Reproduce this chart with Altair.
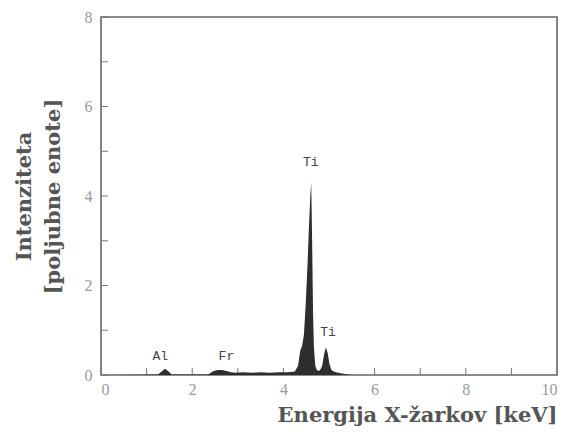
import altair as alt
import pandas as pd

# Spectrum (keV, arbitrary units)
energy = [0.0, 0.3, 1.25, 1.33, 1.40, 1.47, 1.55, 2.35, 2.45, 2.55, 2.65, 2.75,
          2.85, 2.95, 3.1, 3.3, 3.5, 3.7, 3.9, 4.1, 4.25, 4.32, 4.37, 4.41, 4.45,
          4.49, 4.53, 4.56, 4.59, 4.61, 4.63, 4.65, 4.67, 4.70, 4.74, 4.80, 4.85,
          4.89, 4.93, 4.97, 5.01, 5.05, 5.10, 5.20, 5.35, 5.5]
intensity = [0.0, 0.0, 0.01, 0.08, 0.14, 0.09, 0.01, 0.01, 0.08, 0.11, 0.11, 0.09,
             0.06, 0.05, 0.06, 0.05, 0.06, 0.05, 0.06, 0.06, 0.08, 0.2, 0.55, 0.65, 0.9,
             1.6, 2.5, 3.3, 4.0, 4.3, 3.0, 1.4, 0.6, 0.2, 0.1, 0.1, 0.2,
             0.45, 0.62, 0.5, 0.25, 0.12, 0.08, 0.05, 0.02, 0.0]

peak_labels = ["Al", "Fr", "Ti", "Ti"]
peak_x = [1.3, 2.75, 4.6, 4.98]
peak_y = [0.42, 0.42, 4.75, 0.96]

x_ticks = list(range(0, 11))
y_ticks = list(range(0, 9))
x_labels = [0, 2, 4, 6, 8, 10]
y_labels = [0, 2, 4, 6, 8]

W, H = 456, 358

spec = pd.DataFrame({"e": energy, "i": intensity})
labs = pd.DataFrame({"t": peak_labels, "x": peak_x, "y": peak_y})
xt = pd.DataFrame({"v": x_ticks})
yt = pd.DataFrame({"v": y_ticks})

xs = alt.Scale(domain=[0, 10], nice=False, zero=False)
ys = alt.Scale(domain=[0, 8], nice=False, zero=False)

serif = "DejaVu Serif"

xaxis = alt.Axis(values=x_labels, ticks=False, domain=False, grid=False,
                 labelFont="Liberation Serif", labelFontSize=16, labelColor="#999",
                 labelPadding=6,
                 title="Energija X-žarkov [keV]", titleFont=serif, titleFontSize=21,
                 titleFontWeight="bold", titleColor="#555", titleAnchor="end",
                 titlePadding=7)
yaxis = alt.Axis(values=y_labels, ticks=False, domain=False, grid=False,
                 labelFont="Liberation Serif", labelFontSize=16, labelColor="#999",
                 labelPadding=9,
                 title=["Intenziteta", "[poljubne enote]"], titleFont=serif,
                 titleFontSize=21, titleFontWeight="bold", titleColor="#555",
                 titleLineHeight=29, titlePadding=21)

area = alt.Chart(spec).mark_area(color="#2e2e2e", interpolate="linear").encode(
    x=alt.X("e:Q", scale=xs, axis=xaxis),
    y=alt.Y("i:Q", scale=ys, axis=yaxis),
)

text = alt.Chart(labs).mark_text(font="Liberation Mono", fontSize=13, color="#444",
                                 baseline="middle").encode(
    x=alt.X("x:Q", scale=xs), y=alt.Y("y:Q", scale=ys), text="t:N")

xtick = alt.Chart(xt).mark_rule(color="#777", strokeWidth=1).encode(
    x=alt.X("v:Q", scale=xs), y=alt.value(H), y2=alt.value(H - 7))
ytick = alt.Chart(yt).mark_rule(color="#777", strokeWidth=1).encode(
    y=alt.Y("v:Q", scale=ys), x=alt.value(0), x2=alt.value(7))

chart = alt.layer(xtick, ytick, area, text).properties(
    width=W, height=H,
    background="white",
    autosize=alt.AutoSizeParams(type="none"),
    padding={"left": 93, "top": 9, "right": 10, "bottom": 53},
).configure_view(stroke="#666", strokeWidth=1.6)

chart.save("out.html", embed_options={"renderer": "svg", "actions": False})
